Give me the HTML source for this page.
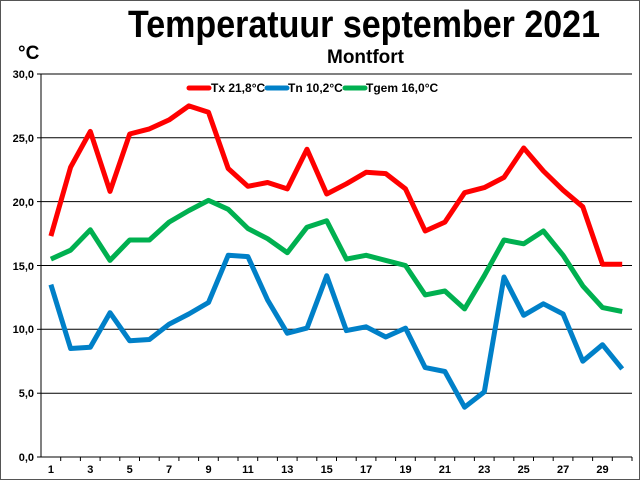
<!DOCTYPE html>
<html><head><meta charset="utf-8"><style>html,body{margin:0;padding:0;background:#fff}svg{display:block}</style></head><body>
<svg width="640" height="480" viewBox="0 0 640 480" xmlns="http://www.w3.org/2000/svg" font-family="'Liberation Sans',sans-serif">
<rect x="0.5" y="0.5" width="639" height="479" fill="#fff" stroke="#555" stroke-width="1"/>
<text x="128" y="37" font-size="38" font-weight="bold" textLength="472" lengthAdjust="spacingAndGlyphs">Temperatuur september 2021</text>
<text x="327" y="63" font-size="19" font-weight="bold" textLength="77" lengthAdjust="spacingAndGlyphs">Montfort</text>
<text x="18" y="59" font-size="19" font-weight="bold">°C</text>
<g stroke="#000" stroke-width="1">
<line x1="41" y1="74" x2="632" y2="74"/><line x1="41" y1="137.8" x2="632" y2="137.8"/><line x1="41" y1="201.6" x2="632" y2="201.6"/><line x1="41" y1="265.5" x2="632" y2="265.5"/><line x1="41" y1="329.3" x2="632" y2="329.3"/><line x1="41" y1="393.2" x2="632" y2="393.2"/><line x1="41" y1="457" x2="632" y2="457"/>
<line x1="41" y1="74" x2="41" y2="457"/>
<line x1="37" y1="74" x2="41" y2="74"/><line x1="37" y1="137.8" x2="41" y2="137.8"/><line x1="37" y1="201.6" x2="41" y2="201.6"/><line x1="37" y1="265.5" x2="41" y2="265.5"/><line x1="37" y1="329.3" x2="41" y2="329.3"/><line x1="37" y1="393.2" x2="41" y2="393.2"/><line x1="37" y1="457" x2="41" y2="457"/>
</g>
<g stroke="#000" stroke-width="1">
<path d="M60.7 457v4M80.4 457v4M100.1 457v4M119.8 457v4M139.5 457v4M159.2 457v4M178.9 457v4M198.6 457v4M218.3 457v4M238 457v4M257.7 457v4M277.4 457v4M297.1 457v4M316.8 457v4M336.5 457v4M356.2 457v4M375.9 457v4M395.6 457v4M415.3 457v4M435 457v4M454.7 457v4M474.4 457v4M494.1 457v4M513.8 457v4M533.5 457v4M553.2 457v4M572.9 457v4M592.6 457v4M612.3 457v4M632 457v4"/>
</g>
<g font-size="11" font-weight="bold" text-anchor="end">
<text x="34" y="78">30,0</text><text x="34" y="142">25,0</text><text x="34" y="206">20,0</text><text x="34" y="270">15,0</text><text x="34" y="333">10,0</text><text x="34" y="397">5,0</text><text x="34" y="461">0,0</text>
</g>
<g font-size="11" font-weight="bold" text-anchor="middle">
<text x="50.9" y="473">1</text><text x="90.3" y="473">3</text><text x="129.7" y="473">5</text><text x="169.1" y="473">7</text><text x="208.5" y="473">9</text><text x="247.9" y="473">11</text><text x="287.3" y="473">13</text><text x="326.7" y="473">15</text><text x="366.1" y="473">17</text><text x="405.5" y="473">19</text><text x="444.9" y="473">21</text><text x="484.3" y="473">23</text><text x="523.7" y="473">25</text><text x="563.1" y="473">27</text><text x="602.5" y="473">29</text>
</g>
<g fill="none" stroke-width="5" stroke-linejoin="round">
<polyline stroke="#ff0000" points="50.9,236.1 70.6,167.2 90.3,131.4 110,191.4 129.7,134 149.4,128.9 169.1,119.9 188.8,105.9 208.5,112.3 228.2,168.5 247.9,186.3 267.6,182.5 287.3,188.9 307,149.3 326.7,194 346.4,183.8 366.1,172.3 385.8,173.6 405.5,188.9 425.2,231 444.9,222.1 464.6,192.7 484.3,187.6 504,177.4 523.7,148 543.4,171 563.1,190.2 582.8,206.8 602.5,264.2 622.2,264.2"/>
<polyline stroke="#0080c8" points="50.9,284.6 70.6,348.5 90.3,347.2 110,312.7 129.7,340.8 149.4,339.5 169.1,324.2 188.8,314 208.5,302.5 228.2,255.3 247.9,256.6 267.6,300 287.3,333.2 307,328.1 326.7,275.7 346.4,330.6 366.1,326.8 385.8,337 405.5,328.1 425.2,367.6 444.9,371.5 464.6,407.2 484.3,391.9 504,277 523.7,315.3 543.4,303.8 563.1,314 582.8,361.2 602.5,344.7 622.2,368.9"/>
<polyline stroke="#00b050" points="50.9,259.1 70.6,250.2 90.3,229.8 110,260.4 129.7,240 149.4,240 169.1,222.1 188.8,210.6 208.5,200.4 228.2,209.3 247.9,228.5 267.6,238.7 287.3,252.7 307,227.2 326.7,220.8 346.4,259.1 366.1,255.3 385.8,260.4 405.5,265.5 425.2,294.9 444.9,291 464.6,308.9 484.3,275.7 504,240 523.7,243.8 543.4,231 563.1,255.3 582.8,285.9 602.5,307.6 622.2,311.5"/>
</g>
<g stroke-width="5" stroke-linecap="round">
<line x1="189" y1="88" x2="209" y2="88" stroke="#ff0000"/>
<line x1="267" y1="88" x2="287" y2="88" stroke="#0080c8"/>
<line x1="345" y1="88" x2="365" y2="88" stroke="#00b050"/>
</g>
<g font-size="12" font-weight="bold">
<text x="211" y="92">Tx 21,8°C</text>
<text x="288" y="92">Tn 10,2°C</text>
<text x="366" y="92">Tgem 16,0°C</text>
</g>
</svg>
</body></html>
